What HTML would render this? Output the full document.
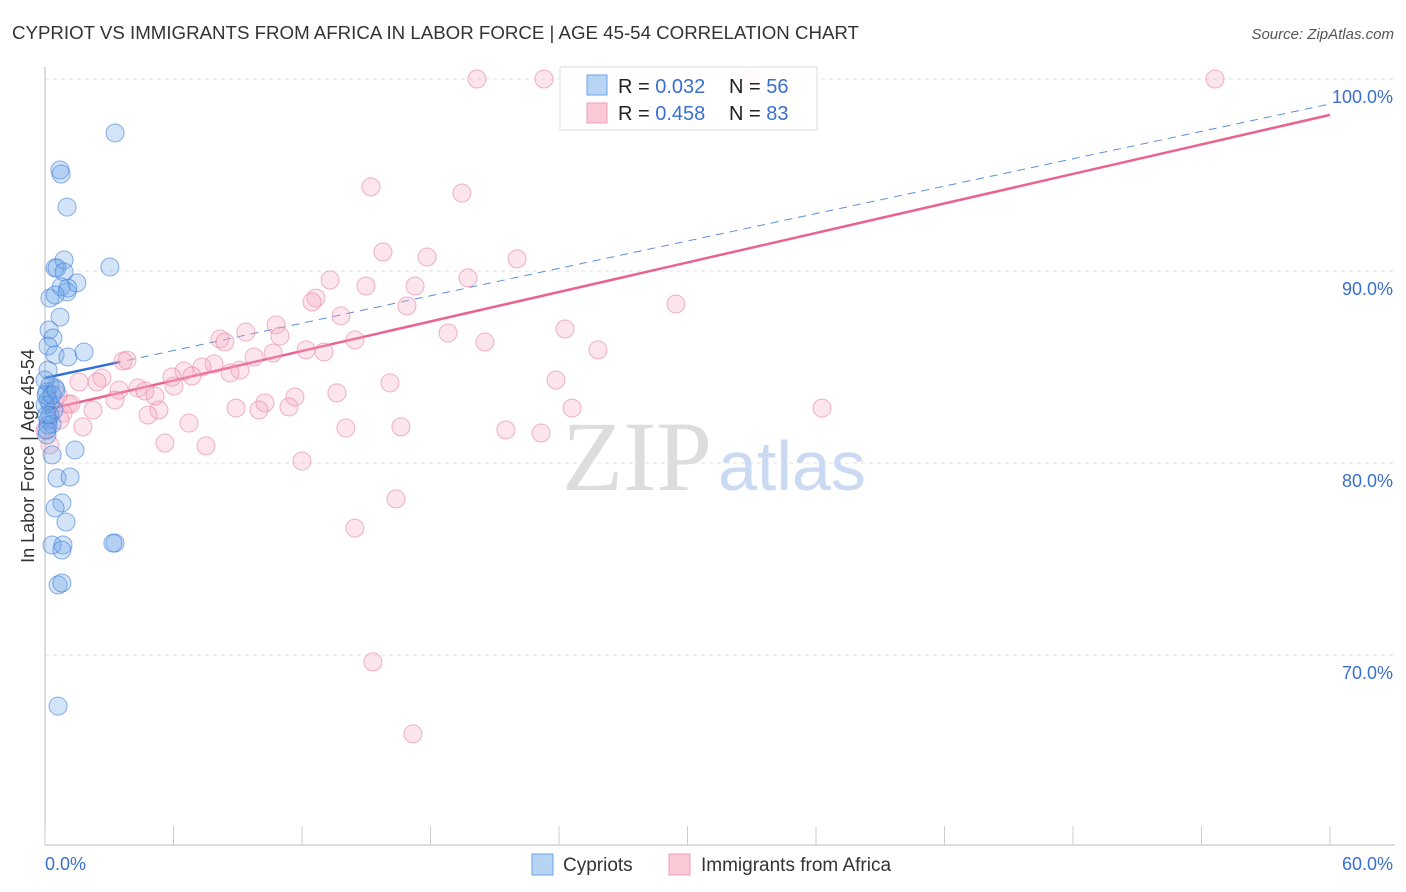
<!DOCTYPE html>
<html><head><meta charset="utf-8"><style>
body{margin:0;background:#fff;font-family:"Liberation Sans",sans-serif;}
#wrap{position:relative;width:1406px;height:892px;overflow:hidden;}
</style></head><body>
<div id="wrap">
<svg id="chart" width="1406" height="892">
<text x="12" y="39" font-size="18.7" fill="#333">CYPRIOT VS IMMIGRANTS FROM AFRICA IN LABOR FORCE | AGE 45-54 CORRELATION CHART</text>
<text x="1394" y="39" font-size="15" fill="#555" font-style="italic" text-anchor="end">Source: ZipAtlas.com</text>
<g id="grid"></g>
<text x="712" y="490" font-size="100" fill="#ddd" text-anchor="end" font-family="Liberation Serif">ZIP</text>
<text x="718" y="490" font-size="70" fill="#c9daf2">atlas</text>
<g id="lines"></g>
<g id="pts"></g>
<text transform="translate(34,456) rotate(-90)" font-size="18" fill="#333" text-anchor="middle">In Labor Force | Age 45-54</text>
<text x="45" y="870" font-size="18" fill="#3a6fcf">0.0%</text>
<text x="1393" y="870" font-size="18" fill="#3a6fcf" text-anchor="end">60.0%</text>
<g>
<rect x="560" y="67" width="257" height="63" fill="#fff" fill-opacity="0.85" stroke="#ddd"/>
<rect x="587" y="75" width="20" height="20" fill="#b8d4f5" stroke="#6ea3e6"/>
<rect x="587" y="103" width="20" height="20" fill="#fbc8d6" stroke="#ec9fb7"/>
<text x="618" y="93" font-size="20" fill="#222">R = <tspan fill="#3a6fcf">0.032</tspan></text>
<text x="729" y="93" font-size="20" fill="#222">N = <tspan fill="#3a6fcf">56</tspan></text>
<text x="618" y="120" font-size="20" fill="#222">R = <tspan fill="#3a6fcf">0.458</tspan></text>
<text x="729" y="120" font-size="20" fill="#222">N = <tspan fill="#3a6fcf">83</tspan></text>
</g>
<g>
<rect x="532" y="854" width="21" height="21" fill="#b8d4f5" stroke="#6ea3e6"/>
<text x="563" y="871" font-size="19" fill="#333">Cypriots</text>
<rect x="669" y="854" width="21" height="21" fill="#fbc8d6" stroke="#ec9fb7"/>
<text x="701" y="871" font-size="19" fill="#333">Immigrants from Africa</text>
</g>
</svg>
</div>
<script>
const yTicks=[100,90,80,70];
const yTickLabels=["100.0%","90.0%","80.0%","70.0%"];
const xTicks=[0,6,12,18,24,30,36,42,48,54,60];
const blueX=[3.27,0.70,0.75,1.03,0.47,0.56,0.89,0.89,3.03,1.49,0.23,0.75,1.03,1.07,0.47,0.70,0.19,0.37,0.14,0.47,1.07,1.82,0.14,0.23,0.47,0.09,0.14,0.23,0.42,0.14,0.33,1.40,0.33,0.56,1.17,0.79,0.47,0.98,0.33,0.84,0.79,3.27,3.17,0.61,0.79,0.61,0.14,0.09,0.0,0.0,0.05,0.09,0.23,0.33,0.51,0.09];
const blueY=[97.19,95.26,95.05,93.33,90.16,90.16,90.57,89.95,90.21,89.38,88.59,89.17,88.91,89.11,88.75,87.60,86.93,86.51,86.09,85.63,85.52,85.78,84.84,84.06,83.91,83.70,83.28,83.07,82.76,82.24,82.03,80.68,80.42,79.22,79.27,77.92,77.66,76.93,75.73,75.73,75.47,75.83,75.83,73.65,73.75,67.34,81.98,81.46,83.02,84.32,83.54,81.72,82.50,83.54,83.80,82.50];
const pinkX=[20.17,23.30,32.92,54.63,15.22,19.47,15.78,17.84,22.04,13.31,19.75,14.99,17.28,12.65,12.47,16.90,29.46,13.82,10.79,9.38,18.82,24.28,10.97,8.17,8.40,14.47,20.54,12.19,13.03,10.65,25.82,9.76,3.83,3.64,7.89,7.33,6.49,9.10,8.64,6.86,5.93,2.66,1.59,2.43,16.11,23.86,4.34,6.02,3.46,4.67,5.14,11.67,13.63,3.27,10.27,8.92,9.99,11.39,1.07,1.21,2.24,5.32,4.81,24.61,36.28,0.84,6.72,14.05,16.62,21.52,23.16,1.77,5.60,7.52,12.00,16.39,14.47,15.31,17.18,0.70,0.23,0.0,0.61];
const pinkY=[100,100,100,100,94.38,94.06,90.99,90.73,90.63,89.53,89.64,89.22,89.22,88.59,88.39,88.18,88.28,87.66,87.19,86.82,86.77,86.98,86.61,86.46,86.30,86.41,86.30,85.89,85.78,85.73,85.89,85.52,85.36,85.31,85.16,85.00,84.79,84.84,84.69,84.53,84.48,84.43,84.22,84.22,84.17,84.32,83.91,84.01,83.80,83.75,83.49,83.44,83.65,83.28,83.13,82.86,82.76,82.92,83.07,83.07,82.76,82.76,82.50,82.86,82.86,82.60,82.08,81.82,81.88,81.72,81.56,81.88,81.04,80.89,80.10,78.13,76.61,69.64,65.89,82.24,80.94,81.72,83.54];
const blueTrend=[84.43,98.70];
const pinkTrend=[82.76,98.13];
const NS="http://www.w3.org/2000/svg";
const X=v=>45+v/60*1285;
const Y=v=>79+(100-v)*19.2;
function mk(tag,attrs,parent){const e=document.createElementNS(NS,tag);for(const k in attrs)e.setAttribute(k,attrs[k]);parent.appendChild(e);return e;}
const grid=document.getElementById('grid');
yTicks.forEach((t,i)=>{
 const l=mk('line',{x1:45,x2:1395,y1:Y(t),y2:Y(t),stroke:'#e2e2e2','stroke-dasharray':'4,4'},grid);
 
 
 const tx=mk('text',{x:1393,y:Y(t)+24,'font-size':18,fill:'#3a6fcf','text-anchor':'end'},grid);
 tx.textContent=yTickLabels[i];
 
 
});
const ax=mk('line',{x1:45,x2:45,y1:67,y2:845,stroke:'#bbb'},grid);


const bx=mk('line',{x1:45,x2:1395,y1:845,y2:845,stroke:'#bbb'},grid);


xTicks.forEach(t=>{
 const l=mk('line',{x1:X(t),x2:X(t),y1:826,y2:845,stroke:'#ccc'},grid);
 
 
});
const lines=document.getElementById('lines');
const bd=mk('line',{x1:X(0),y1:Y(blueTrend[0]),x2:X(60),y2:Y(blueTrend[1]),stroke:'#5b8fdc','stroke-width':1,'stroke-dasharray':'8,6'},lines);


const bs=mk('line',{x1:X(0),y1:Y(blueTrend[0]),x2:X(3.5),y2:Y(blueTrend[0]+(blueTrend[1]-blueTrend[0])*3.5/60),stroke:'#2f6fd6','stroke-width':2.5},lines);


const pl=mk('line',{x1:X(0),y1:Y(pinkTrend[0]),x2:X(60),y2:Y(pinkTrend[1]),stroke:'#e8638e','stroke-width':2.5},lines);


const pts=document.getElementById('pts');
pinkX.forEach((x,i)=>{
 const c=mk('circle',{cx:X(x),cy:Y(pinkY[i]),r:9,fill:'rgba(246,168,192,0.3)',stroke:'rgba(232,130,163,0.6)','stroke-width':1},pts);
 
 
});
blueX.forEach((x,i)=>{
 const c=mk('circle',{cx:X(x),cy:Y(blueY[i]),r:9,fill:'rgba(110,165,232,0.3)',stroke:'rgba(60,125,215,0.6)','stroke-width':1},pts);
 
 
});
</script>
</body></html>
